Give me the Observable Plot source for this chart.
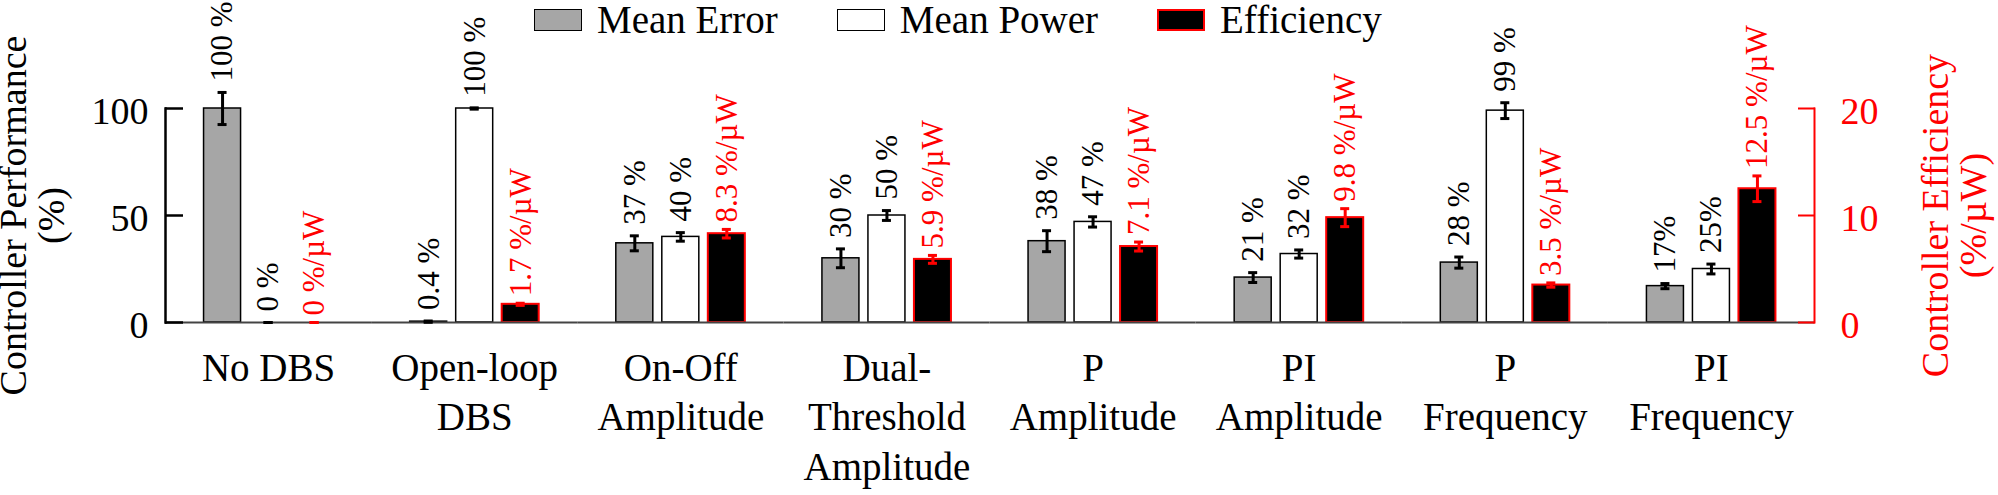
<!DOCTYPE html>
<html><head><meta charset="utf-8">
<script src="https://cdn.jsdelivr.net/npm/d3@7"></script>
<script src="https://cdn.jsdelivr.net/npm/@observablehq/plot@0.6"></script>
<style>
body{margin:0;background:#fff;}
p.leg{margin:0;}
</style></head><body style="font-family:'Liberation Serif'">
<div id="wrap" style="position:relative;width:1998px;height:495px;font-family:'Liberation Serif'">
<div id="chart"></div>
<div id="legend" style="position:absolute;top:0;left:534px;display:flex;align-items:center;font-size:39px;line-height:39px;height:39px;white-space:nowrap;"></div>
</div>
<script>
const groups = ["No DBS", "Open-loop\nDBS", "On-Off\nAmplitude", "Dual-\nThreshold\nAmplitude", "P\nAmplitude", "PI\nAmplitude", "P\nFrequency", "PI\nFrequency"];
const series = ["Mean Error", "Mean Power", "Efficiency"];

const meanError = [100, 0.4, 37, 30, 38, 21, 28, 17];
const meanErrorSD = [7.5, 0.3, 3.5, 4.4, 4.9, 2.3, 2.6, 1.2];
const meanErrorLabels = ["100 %", "0.4 %", "37 %", "30 %", "38 %", "21 %", "28 %", "17%"];

const meanPower = [0, 100, 40, 50, 47, 32, 99, 25];
const meanPowerSD = [0, 0.3, 2, 2.3, 2.4, 1.9, 3.7, 2.3];
const meanPowerLabels = ["0 %", "100 %", "40 %", "50 %", "47 %", "32 %", "99 %", "25%"];

const efficiency = [0, 1.7, 8.3, 5.9, 7.1, 9.8, 3.5, 12.5];
const efficiencySD = [0, 0.1, 0.4, 0.37, 0.42, 0.84, 0.2, 1.2];
const efficiencyLabels = ["0 %/µW", "1.7 %/µW", "8.3 %/µW", "5.9 %/µW", "7.1 %/µW", "9.8 %/µW", "3.5 %/µW", "12.5 %/µW"];

const leftTicks = [0, 50, 100];
const rightTicks = [0, 10, 20];
const effToPerf = 100 / 20; // right axis 0–20 shares the left 0–100 range

function rows(name, values, sds, labels, k) {
  return groups.map((g, i) => ({
    group: g, series: name,
    y: values[i] * k,
    lo: (values[i] - sds[i]) * k,
    hi: (values[i] + sds[i]) * k,
    label: labels[i]
  }));
}

const dataSets = [
  {rows: rows("Mean Error", meanError, meanErrorSD, meanErrorLabels, 1), fill: "#a6a6a6", stroke: "#000", sw: 1.5, err: "#000", dy: -11},
  {rows: rows("Mean Power", meanPower, meanPowerSD, meanPowerLabels, 1), fill: "#fff", stroke: "#000", sw: 1.5, err: "#000", dy: -11},
  {rows: rows("Efficiency", efficiency, efficiencySD, efficiencyLabels, effToPerf), fill: "#000", stroke: "#ff0000", sw: 2, err: "#ff0000", dy: -7}
];

const FONT = "'Liberation Serif'";

const marks = [];
for (const s of dataSets) {
  marks.push(Plot.barY(s.rows, {fx: "group", x: "series", y: "y", fill: s.fill, stroke: s.stroke, strokeWidth: s.sw}));
}
marks.push(Plot.ruleY([0], {stroke: "#444", strokeWidth: 2}));
for (const s of dataSets) {
  marks.push(Plot.ruleX(s.rows, {fx: "group", x: "series", y1: "lo", y2: "hi", stroke: s.err, strokeWidth: 3}));
  marks.push(Plot.tickY(s.rows, {fx: "group", x: "series", y: "hi", stroke: s.err, strokeWidth: 3, inset: 14}));
  marks.push(Plot.tickY(s.rows, {fx: "group", x: "series", y: "lo", stroke: s.err, strokeWidth: 3, inset: 14}));
  marks.push(Plot.text(s.rows, {fx: "group", x: "series", y: "hi", text: "label", rotate: -90, textAnchor: "start", lineAnchor: "middle", dy: s.dy, fontSize: 31, fontFamily: "Liberation Serif", fill: s.err}));
}
marks.push(Plot.frame({anchor: "left", facetAnchor: "left", stroke: "#000", strokeWidth: 2.5}));
marks.push(Plot.frame({anchor: "right", facetAnchor: "right", stroke: "#ff0000", strokeWidth: 2}));
marks.push(Plot.axisY(leftTicks, {anchor: "left", tickSize: -18, tickPadding: 35, strokeWidth: 2.5, color: "#000", fontSize: 38, fontFamily: "Liberation Serif",
  label: "Controller Performance\n(%)", labelAnchor: "center", labelOffset: 166, labelArrow: "none", lineHeight: 1.28}));
marks.push(Plot.axisY(rightTicks.map(v => v * effToPerf), {anchor: "right", tickSize: -17, tickPadding: 43, strokeWidth: 2, color: "#ff0000", fontSize: 38, fontFamily: "Liberation Serif",
  tickFormat: d => d / effToPerf,
  label: "Controller Efficiency\n(%/µW)", labelAnchor: "center", labelOffset: 171, labelArrow: "none", lineHeight: 1.28}));
marks.push(Plot.axisFx({anchor: "bottom", tickSize: 0, tickPadding: 22.6, fontSize: 39, fontFamily: "Liberation Serif", lineHeight: 1.28, label: null}));

const chart = Plot.plot({
  width: 1998, height: 495,
  marginLeft: 165, marginRight: 184, marginTop: 108, marginBottom: 173,
  style: "font-family:'Liberation Serif';font-size:39px;background:transparent;overflow:visible;color:#000;",
  fx: {domain: groups, padding: 0, round: false, axis: null, label: null},
  x: {domain: series, paddingInner: 9 / 46, paddingOuter: 0.838, round: false, axis: null},
  y: {domain: [0, 100], axis: null},
  marks
});
chart.setAttribute("font-family", "Liberation Serif");
document.getElementById("chart").appendChild(chart);

const legendStyles = [
  {bg: "#a6a6a6", border: "1.5px solid #000"},
  {bg: "#fff", border: "1.5px solid #000"},
  {bg: "#000", border: "2px solid #ff0000"}
];
const legend = document.getElementById("legend");
series.forEach((name, i) => {
  const item = document.createElement("div");
  item.style.cssText = "display:flex;align-items:center;margin-right:59px;";
  const sw = document.createElement("div");
  sw.style.cssText = `width:48px;height:22px;box-sizing:border-box;margin-right:15px;background:${legendStyles[i].bg};border:${legendStyles[i].border};`;
  const t = document.createElement("p");
  t.className = "leg";
  t.textContent = name;
  item.appendChild(sw); item.appendChild(t);
  legend.appendChild(item);
});

function applyFont() {
  document.querySelectorAll("#wrap, #wrap text, #wrap tspan, #wrap g, #wrap svg, #legend, #legend p, #legend div").forEach(el => {
    el.style.setProperty("font-family", FONT, "important");
  });
}
applyFont();
window.addEventListener("load", applyFont);
if (document.fonts && document.fonts.ready) document.fonts.ready.then(applyFont);
setTimeout(applyFont, 50);
setTimeout(applyFont, 300);
</script>
</body></html>
